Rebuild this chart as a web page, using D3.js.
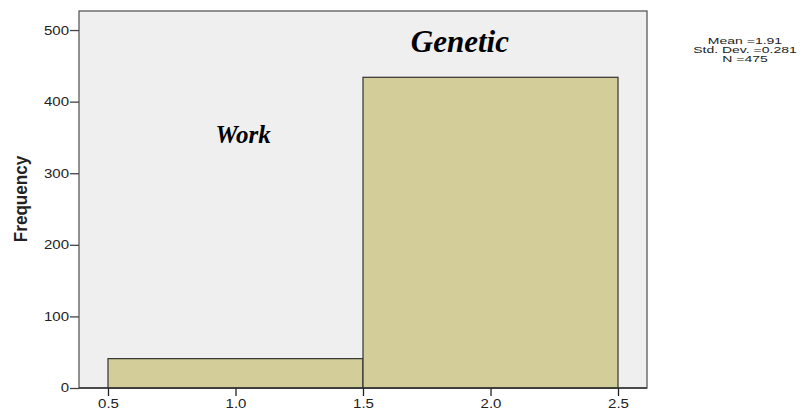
<!DOCTYPE html>
<html><head><meta charset="utf-8">
<script src="https://cdn.jsdelivr.net/npm/d3@7"></script>
<style>body{margin:0;background:#fff}svg{display:block}</style>
</head><body>
<script>
const binStarts = [0.5, 1.5];
const binEnds = [1.5, 2.5];
const frequencies = [41, 434];
const yTicks = [0, 100, 200, 300, 400, 500];
const xTicks = [0.5, 1.0, 1.5, 2.0, 2.5];
const statsLines = ["Mean =1.91", "Std. Dev. =0.281", "N =475"];
const annotations = [{text: "Work", x: 1.03, y: 342, size: 25}, {text: "Genetic", x: 1.88, y: 470, size: 31}];

(function(){
const W = 807, H = 412;
const SY = 0.8;
const sans = "Arial, 'Liberation Sans', sans-serif";
const svg = d3.select("body").append("svg").attr("width", W).attr("height", H);
const pL = 79, pR = 647, pT = 11, pB = 388;
const x = d3.scaleLinear().domain([0.3863, 2.6137]).range([pL, pR]);
const y = d3.scaleLinear().domain([0, 526.6]).range([pB, pT]);

svg.append("rect").attr("x", pL).attr("y", pT).attr("width", pR-pL).attr("height", pB-pT)
  .attr("fill", "#efefef").attr("stroke", "#5a5a5a").attr("stroke-width", 1.3);

svg.selectAll("rect.bar").data(frequencies).enter().append("rect").attr("class","bar")
  .attr("x", (d,i)=>x(binStarts[i])).attr("width", (d,i)=>x(binEnds[i])-x(binStarts[i]))
  .attr("y", d=>y(d)).attr("height", d=>y(0)-y(d))
  .attr("fill", "#d3ce99").attr("stroke", "#333").attr("stroke-width", 1.2);

const yAxis = svg.append("g").attr("transform", `translate(${pL},0)`)
  .call(d3.axisLeft(y).tickValues(yTicks).tickSize(9).tickPadding(1).tickFormat(d3.format("d")));
yAxis.select(".domain").remove();
yAxis.selectAll("line").attr("stroke","#444").attr("stroke-width",1.3);
yAxis.selectAll("text").attr("font-family",sans).attr("font-size",15).attr("fill","#222")
  .attr("dy", null).attr("y", 0).attr("dominant-baseline", "central")
  .attr("transform", `scale(1,${SY})`);

const xAxis = svg.append("g").attr("transform", `translate(0,${pB})`)
  .call(d3.axisBottom(x).tickValues(xTicks).tickSize(8).tickPadding(3).tickFormat(d3.format(".1f")));
xAxis.select(".domain").remove();
xAxis.selectAll("line").attr("stroke","#222").attr("stroke-width",1.3);
xAxis.selectAll("text").attr("font-family",sans).attr("font-size",15).attr("fill","#222")
  .attr("dy", null).attr("y", 20/SY).attr("transform", `scale(1,${SY})`);

svg.append("line").attr("x1", pL).attr("x2", pR).attr("y1", pB).attr("y2", pB)
  .attr("stroke","#333").attr("stroke-width",1.5);

svg.append("text").attr("transform", `translate(27,${199}) rotate(-90) scale(0.9,1)`)
  .attr("text-anchor","middle").attr("font-family",sans)
  .attr("font-weight","bold").attr("font-size",19).attr("fill","#222").text("Frequency");

svg.selectAll("text.ann").data(annotations).enter().append("text").attr("class","ann")
  .attr("x", d=>x(d.x)).attr("y", d=>y(d.y)).attr("text-anchor","middle")
  .attr("font-family","'Liberation Serif', 'Times New Roman', serif").attr("font-style","italic")
  .attr("font-weight","bold").attr("font-size", d=>d.size).attr("fill","#000").text(d=>d.text);

svg.selectAll("text.stat").data(statsLines).enter().append("text").attr("class","stat")
  .attr("transform", (d,i)=>`translate(745,${43.5 + i*9.3}) scale(1,0.65)`).attr("text-anchor","middle")
  .attr("font-family",sans).attr("font-size",14).attr("fill","#222").text(d=>d);
})();
</script>
</body></html>
